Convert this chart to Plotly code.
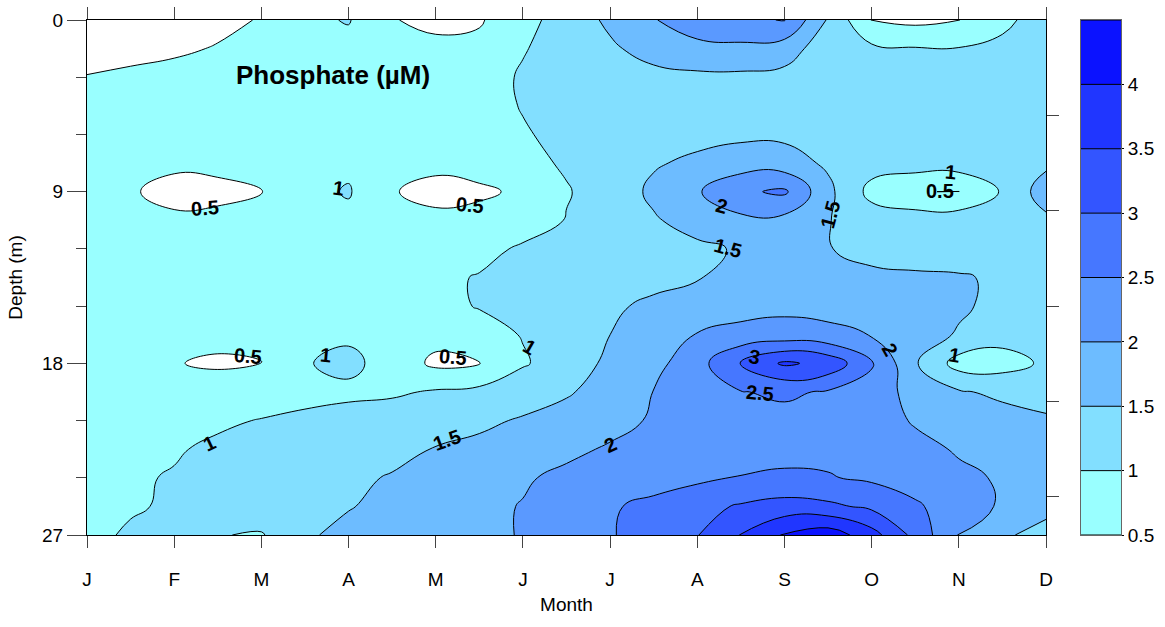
import plotly.graph_objects as go

# ---------------- data ----------------
months = ["J", "F", "M", "A", "M", "J", "J", "A", "S", "O", "N", "D"]
month_pos = [0, 1, 2, 3, 4, 5, 6, 7, 8, 9, 10, 11]

# sampling positions of the field (month index, depth in m)
x_month = [0, 0.5, 1, 1.5, 2, 2.5, 3, 3.5, 4, 4.5, 5, 5.5, 6, 6.5, 7, 7.5,
           8, 8.5, 9, 9.5, 10, 10.5, 11]
depth_m = [0, 1.5, 3, 4.5, 6, 7.5, 9, 10.5, 12, 13.5, 15, 16.5, 18, 19.5,
           21, 22.5, 24, 25.5, 27]

# phosphate (uM), one row per depth
p_d00 = [0.30, 0.32, 0.35, 0.42, 0.52, 0.90, 1.03, 0.52, 0.40, 0.45, 0.85, 1.20, 1.60, 1.97, 2.30, 2.42, 2.52, 1.45, 0.48, 0.38, 0.49, 0.90, 1.20]
p_d015 = [0.40, 0.42, 0.45, 0.52, 0.62, 0.75, 0.85, 0.65, 0.60, 0.63, 0.97, 1.20, 1.42, 1.70, 1.85, 1.88, 1.75, 1.20, 1.10, 1.03, 1.02, 1.10, 1.25]
p_d03 = [0.51, 0.55, 0.60, 0.65, 0.70, 0.75, 0.78, 0.72, 0.70, 0.80, 1.05, 1.20, 1.28, 1.35, 1.40, 1.40, 1.35, 1.25, 1.18, 1.15, 1.15, 1.20, 1.28]
p_d045 = [0.60, 0.62, 0.65, 0.68, 0.72, 0.76, 0.80, 0.75, 0.72, 0.78, 1.03, 1.20, 1.25, 1.30, 1.35, 1.38, 1.38, 1.30, 1.20, 1.15, 1.15, 1.22, 1.30]
p_d06 = [0.65, 0.67, 0.68, 0.70, 0.74, 0.78, 0.82, 0.76, 0.74, 0.78, 0.95, 1.15, 1.22, 1.30, 1.35, 1.40, 1.40, 1.32, 1.20, 1.15, 1.15, 1.25, 1.35]
p_d075 = [0.68, 0.62, 0.56, 0.58, 0.66, 0.80, 0.90, 0.70, 0.58, 0.62, 0.88, 1.05, 1.25, 1.45, 1.60, 1.75, 1.72, 1.42, 1.20, 1.25, 1.25, 1.25, 1.40]
p_d09 = [0.70, 0.53, 0.40, 0.42, 0.49, 0.85, 1.04, 0.52, 0.40, 0.45, 0.55, 0.97, 1.20, 1.60, 1.95, 2.42, 2.58, 1.62, 0.85, 0.52, 0.48, 1.05, 1.75]
p_d105 = [0.72, 0.62, 0.56, 0.58, 0.62, 0.78, 0.88, 0.70, 0.58, 0.60, 0.75, 1.02, 1.25, 1.45, 1.70, 1.88, 1.85, 1.52, 1.25, 1.28, 1.28, 1.25, 1.40]
p_d12 = [0.74, 0.70, 0.66, 0.66, 0.68, 0.75, 0.80, 0.78, 0.76, 0.85, 1.07, 1.20, 1.28, 1.35, 1.40, 1.55, 1.60, 1.52, 1.35, 1.25, 1.22, 1.25, 1.30]
p_d135 = [0.76, 0.74, 0.72, 0.72, 0.74, 0.78, 0.82, 0.85, 0.90, 1.03, 1.15, 1.22, 1.28, 1.35, 1.48, 1.60, 1.65, 1.62, 1.60, 1.58, 1.55, 1.42, 1.30]
p_d15 = [0.78, 0.76, 0.75, 0.75, 0.76, 0.80, 0.85, 0.88, 0.90, 1.02, 1.15, 1.28, 1.42, 1.60, 1.70, 1.82, 1.88, 1.85, 1.75, 1.65, 1.58, 1.35, 1.25]
p_d165 = [0.80, 0.78, 0.72, 0.62, 0.62, 0.85, 0.92, 0.75, 0.65, 0.85, 1.02, 1.30, 1.50, 1.78, 2.02, 2.15, 2.20, 2.12, 1.98, 1.75, 1.45, 1.18, 1.15]
p_d18 = [0.80, 0.70, 0.52, 0.44, 0.48, 0.97, 1.12, 0.80, 0.40, 0.49, 0.96, 1.20, 1.62, 1.85, 2.30, 3.05, 3.58, 3.35, 2.55, 1.55, 0.80, 0.80, 1.08]
p_d195 = [0.82, 0.80, 0.75, 0.72, 0.75, 0.85, 0.90, 0.93, 1.05, 1.12, 1.25, 1.45, 1.70, 2.01, 2.40, 2.48, 2.58, 2.45, 2.30, 1.80, 1.55, 1.40, 1.35]
p_d21 = [0.85, 0.86, 0.88, 0.93, 1.02, 1.10, 1.18, 1.25, 1.32, 1.40, 1.55, 1.68, 1.85, 2.05, 2.20, 2.30, 2.35, 2.32, 2.25, 1.95, 1.80, 1.68, 1.55]
p_d225 = [0.88, 0.90, 0.96, 1.08, 1.15, 1.22, 1.30, 1.38, 1.52, 1.62, 1.72, 1.90, 2.05, 2.15, 2.25, 2.35, 2.40, 2.38, 2.30, 2.15, 1.95, 1.82, 1.70]
p_d24 = [0.92, 0.95, 1.03, 1.15, 1.25, 1.33, 1.42, 1.53, 1.65, 1.78, 1.95, 2.10, 2.22, 2.30, 2.40, 2.52, 2.55, 2.53, 2.42, 2.25, 2.10, 1.95, 1.75]
p_d255 = [0.93, 0.96, 1.05, 1.20, 1.32, 1.40, 1.48, 1.60, 1.72, 1.90, 2.02, 2.20, 2.45, 2.62, 2.85, 3.05, 3.20, 3.10, 2.90, 2.58, 2.20, 1.95, 1.60]
p_d27 = [0.90, 1.05, 1.10, 1.02, 0.96, 1.45, 1.60, 1.70, 1.80, 1.92, 2.02, 2.20, 2.45, 2.80, 2.98, 3.52, 4.05, 4.30, 3.70, 2.85, 1.97, 1.55, 1.38]

phosphate = [p_d00, p_d015, p_d03, p_d045, p_d06, p_d075, p_d09, p_d105,
             p_d12, p_d135, p_d15, p_d165, p_d18, p_d195, p_d21, p_d225,
             p_d24, p_d255, p_d27]

depth_ticks = [0, 9, 18, 27]
depth_minor = [3, 6, 12, 15, 21, 24]
right_ticks = [5, 10, 15, 20, 25]
level_start, level_end, level_step = 0.5, 4.5, 0.5
bar_ticks = [0.5, 1, 1.5, 2, 2.5, 3, 3.5, 4]
bar_ramp_y = [0.4, 4.6]
bar_ramp_z = [[0.4, 0.4], [4.6, 4.6]]

# contour level labels as placed in the reference: (text, month, depth, angle)
contour_labels = [
    ("0.5", 1.35, 9.85, -4), ("1", 2.88, 8.8, 8), ("0.5", 4.39, 9.7, 5),
    ("2", 7.28, 9.75, 15), ("1.5", 8.52, 10.2, -75), ("1.5", 7.35, 11.95, 15),
    ("1", 9.9, 7.95, 5), ("0.5", 9.78, 8.95, 0),
    ("0.5", 1.85, 17.6, 5), ("1", 2.73, 17.55, 5), ("0.5", 4.2, 17.65, 5),
    ("1", 5.08, 17.15, 30), ("3", 7.66, 17.65, 10), ("2.5", 7.72, 19.55, 5),
    ("2", 9.21, 17.3, 60), ("1", 9.95, 17.55, 10),
    ("1", 1.41, 22.2, -25), ("1.5", 4.13, 22.0, -20), ("2", 6.0, 22.3, -25),
]

# ---------------- style ----------------
FONT = "Liberation Sans, Arial, sans-serif"
band_colors = ["#ffffff", "#99ffff", "#82dfff", "#6dbcff", "#5a99ff",
               "#4677ff", "#3355ff", "#2036ff", "#0b12ff", "#0b12ff"]
colorscale = [[i / 9, c] for i, c in enumerate(band_colors)]

contours = dict(coloring="fill", start=level_start, end=level_end,
                size=level_step, showlines=True)

fig = go.Figure()

fig.add_trace(go.Contour(
    x=x_month, y=depth_m, z=phosphate,
    autocontour=False, contours=contours,
    colorscale=colorscale, showscale=False,
    line=dict(color="black", width=1, smoothing=1.3),
    hoverinfo="skip",
))

# right-hand tick axis (needs a trace to be drawn)
fig.add_trace(go.Scatter(x=[None], y=[None], yaxis="y2", xaxis="x",
                         showlegend=False, hoverinfo="skip"))

# colour key drawn as a contour of a linear ramp in its own axes
fig.add_trace(go.Contour(
    x=[0, 1], y=bar_ramp_y, z=bar_ramp_z,
    xaxis="x3", yaxis="y3",
    autocontour=False, contours=contours,
    colorscale=colorscale, showscale=False,
    line=dict(color="black", width=1, smoothing=0),
    hoverinfo="skip",
))

axis_font = dict(family=FONT, size=19, color="black")
label_font = dict(family=FONT, size=20, color="black", weight="bold")

annotations = [dict(text="<b>Phosphate (µM)</b>", x=2.82, y=2.88,
                    xref="x", yref="y", showarrow=False,
                    font=dict(family=FONT, size=26, color="black"))]
for txt, mx, dy, ang in contour_labels:
    annotations.append(dict(text=txt, x=mx, y=dy, xref="x", yref="y",
                            showarrow=False, textangle=ang, font=label_font))

fig.update_layout(
    width=1165, height=627,
    margin=dict(l=87, r=44, t=20, b=92, autoexpand=False),
    paper_bgcolor="white", plot_bgcolor="white",
    showlegend=False,
    font=dict(family=FONT, size=19, color="black"),
    xaxis=dict(domain=[0, 0.9275], range=[0, 11], tickvals=month_pos,
               ticktext=months, ticks="outside", ticklen=12, tickwidth=1,
               tickcolor="#444", showline=True, linecolor="black",
               linewidth=1, mirror="ticks", showgrid=False, zeroline=False,
               tickfont=axis_font, ticklabelstandoff=15, automargin=False,
               title=dict(text="Month", font=axis_font, standoff=8)),
    yaxis=dict(range=[27, 0], tickvals=depth_ticks, ticks="outside",
               ticklen=19, tickwidth=1, tickcolor="#444", showline=True,
               linecolor="black", linewidth=1, mirror=True, showgrid=False,
               zeroline=False, tickfont=axis_font, automargin=False,
               minor=dict(tickvals=depth_minor, ticks="outside", ticklen=10,
                          tickcolor="#444", showgrid=False),
               title=dict(text="Depth (m)", font=axis_font, standoff=14)),
    yaxis2=dict(overlaying="y", anchor="x", side="right", range=[27, 0],
                tickvals=right_ticks, ticks="outside", ticklen=12,
                tickcolor="#444", showticklabels=False, showgrid=False,
                zeroline=False, showline=False, automargin=False),
    xaxis3=dict(domain=[0.9613, 1], anchor="y3", range=[0, 1],
                showticklabels=False, ticks="", showgrid=False,
                zeroline=False, showline=True, linecolor="#666",
                mirror=True, automargin=False),
    yaxis3=dict(domain=[0, 1], anchor="x3", side="right",
                range=[level_start, level_end], tickvals=bar_ticks,
                ticks="outside", ticklen=2, tickcolor="black",
                showgrid=False, zeroline=False, showline=True,
                linecolor="#666", mirror=True, tickfont=axis_font,
                automargin=False),
    annotations=annotations,
)

fig.write_html("out.html", config={"displayModeBar": False},
               post_script="document.body.style.margin='0px';")
